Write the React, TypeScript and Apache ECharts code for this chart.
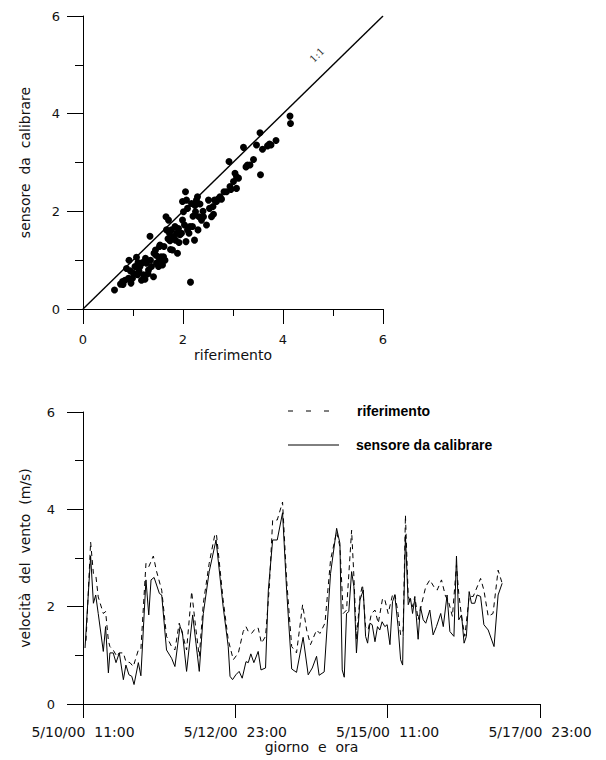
import React, { useEffect, useRef } from "react";
import * as echarts from "echarts";

// Scatter: riferimento (x) vs sensore da calibrare (y)
const scatterRif = [
  0.63, 0.75, 0.79, 0.84, 0.87, 0.92, 0.91, 0.96, 0.99, 1.01, 1.04, 1.07, 1.09, 1.14, 1.17, 1.21, 1.24, 1.25,
  1.27, 1.31, 1.34, 1.35, 1.37, 1.41, 1.42, 1.45, 1.47, 1.51, 1.53, 1.54, 1.56, 1.57, 1.59, 1.61, 1.64, 1.66,
  1.67, 1.71, 1.73, 1.74, 1.75, 1.77, 1.79, 1.81, 1.84, 1.85, 1.87, 1.89, 1.91, 1.94, 1.97, 1.99, 2.01, 1.99,
  2.05, 2.07, 2.09, 2.06, 2.09, 2.12, 2.14, 2.15, 2.17, 2.19, 2.23, 2.25, 2.27, 2.29, 2.3, 2.32, 2.34, 2.37,
  2.41, 2.47, 2.51, 2.53, 2.57, 2.61, 2.63, 2.67, 2.74, 2.77, 2.82, 2.87, 2.92, 2.94, 3.01, 3.04, 3.07, 3.07,
  3.11, 3.21, 3.26, 3.29, 3.34, 3.41, 3.47, 3.54, 3.55, 3.59, 3.69, 3.73, 3.76, 3.86, 4.14, 4.15,
  1.12, 1.19, 1.3, 1.46, 1.62, 1.7, 1.92, 2.03, 2.2, 2.24, 2.4, 2.6, 2.7, 0.8, 0.95, 1.1, 2.96, 1.52,
];
const scatterSens = [
  0.39, 0.51, 0.56, 0.59, 0.83, 1.0, 0.63, 0.53, 0.63, 0.73, 0.87, 1.06, 0.7, 0.87, 0.59, 0.7, 0.61, 1.04,
  0.94, 0.8, 1.49, 1.0, 0.87, 0.66, 1.14, 1.21, 0.94, 0.87, 1.28, 1.31, 1.07, 1.0, 0.9, 1.07, 1.0, 1.89,
  1.62, 1.82, 1.55, 1.4, 1.22, 1.62, 1.21, 1.48, 1.69, 1.41, 1.55, 1.14, 1.65, 1.52, 1.55, 1.82, 1.99, 2.2,
  2.4, 2.23, 2.06, 1.38, 1.62, 1.55, 1.69, 0.55, 2.16, 1.69, 1.41, 1.99, 2.23, 2.3, 1.62, 1.89, 2.15, 1.82,
  1.89, 1.72, 2.23, 2.06, 1.89, 1.94, 2.23, 2.2, 2.3, 2.25, 2.4, 2.4, 3.02, 2.51, 2.61, 2.78, 2.47, 2.71,
  2.68, 3.31, 2.91, 2.95, 2.95, 3.06, 3.36, 3.61, 2.75, 3.27, 3.34, 3.38, 3.36, 3.45, 3.95, 3.8,
  0.78, 0.95, 0.72, 1.1, 1.28, 1.44, 1.36, 1.72, 1.9, 2.12, 2.0, 2.1, 2.25, 0.5, 0.78, 0.95, 2.45, 1.05,
];
const scatterTicks = ["0", "2", "4", "6"];

// Time series (hours since 5/10/00 11:00)
const rifHours = [
  1.2, 3.0, 4.1, 5.1, 6.0, 8.0, 8.9, 10.0, 10.6, 11.9, 13.3, 14.3, 15.9, 16.9, 18.5, 19.8, 21.8, 22.8, 24.8,
  25.9, 27.7, 29.0, 31.0, 32.9, 34.9, 36.2, 37.9, 39.1, 40.8, 42.8, 44.5, 45.8, 47.4, 49.7, 52.0, 52.6, 55.2,
  57.2, 59.2, 61.2, 63.1, 64.2, 65.1, 66.4, 68.0, 69.0, 70.3, 71.9, 73.4, 74.7, 76.5, 78.6, 80.2, 82.2, 84.1,
  86.5, 88.1, 89.6, 92.0, 93.3, 95.3, 97.5, 99.9, 101.2, 102.5, 103.8, 105.8, 106.7, 107.7, 109.1, 110.1,
  111.3, 112.3, 113.6, 115.0, 116.3, 118.0, 118.9, 120.2, 121.9, 122.8, 124.1, 125.1, 126.1, 127.0, 128.1,
  129.8, 130.7, 132.0, 133.3, 135.0, 136.6, 138.2, 139.5, 141.2, 142.8, 143.8, 145.5, 147.1, 148.0, 149.1,
  150.4, 152.1, 153.7, 156.6, 157.9, 159.6, 161.5, 163.5, 165.1,
];
const rifValues = [
  1.3, 3.33, 2.68, 2.62, 2.2, 1.86, 1.9, 1.3, 1.18, 1.11, 0.98, 1.05, 1.05, 0.87, 0.85, 0.77, 1.11, 1.12, 2.89,
  2.82, 3.04, 2.72, 2.34, 1.39, 1.18, 1.11, 1.66, 1.45, 1.11, 2.31, 1.52, 0.98, 2.07, 2.89, 3.5, 3.47, 2.14,
  1.32, 0.91, 1.05, 1.49, 1.59, 1.49, 1.45, 1.56, 1.56, 1.25, 1.39, 2.41, 3.78, 3.78, 4.15, 2.55, 1.18, 1.05,
  2.04, 1.52, 1.22, 1.52, 1.45, 1.66, 2.96, 3.54, 3.23, 1.86, 1.93, 3.57, 2.62, 1.32, 2.21, 2.45,
  1.59, 1.52, 1.86, 1.93, 1.66, 2.17, 2.14, 1.86, 2.24, 2.27, 1.86, 1.42, 1.52, 3.88, 2.21,
  2.0, 2.21, 1.73, 2.04, 2.41, 2.55, 2.41, 2.34, 2.55, 2.21, 2.14, 1.8, 2.86, 2.27, 1.8,
  1.39, 2.21, 2.21, 2.58, 2.34, 1.8, 1.86, 2.75, 2.48,
];
const sensHours = [
  0.8, 3.0, 4.1, 5.0, 6.0, 8.0, 8.9, 10.0, 10.6, 11.9, 13.0, 14.3, 15.9, 16.9, 18.1, 19.2, 20.1, 21.8, 22.8,
  24.8, 25.9, 26.8, 28.0, 30.1, 31.0, 32.9, 34.9, 36.2, 38.2, 39.1, 40.8, 43.2, 44.5, 45.8, 47.4, 49.7, 52.4,
  55.2, 57.2, 57.9, 58.9, 60.2, 61.5, 62.7, 64.2, 65.1, 66.1, 67.3, 69.0, 70.1, 71.9, 73.0, 74.7, 76.5, 78.6,
  80.2, 82.2, 84.1, 86.7, 88.7, 90.3, 92.0, 93.0, 95.0, 97.5, 99.9, 101.2, 102.1, 102.9, 103.8, 104.7, 105.8,
  106.7, 107.7, 109.1, 110.4, 111.3, 112.1, 113.0, 113.9, 115.0, 116.0, 116.9, 117.8, 118.9, 119.8, 120.9,
  121.9, 122.8, 124.1, 125.1, 125.9, 126.1, 127.0, 128.1, 129.0, 129.8, 130.7, 132.0, 132.9, 134.0, 135.0,
  136.6, 137.9, 139.2, 140.9, 141.9, 143.4, 144.5, 146.1, 147.1, 148.0, 149.1, 150.1, 151.0, 152.1, 153.0,
  154.3, 155.2, 156.6, 157.9, 159.6, 161.9, 163.5, 165.1,
];
const sensValues = [
  1.15, 3.04, 2.07, 2.24, 1.86, 1.08, 1.59, 0.64, 1.05, 1.05, 0.85, 1.05, 0.5, 0.8, 0.6, 0.57, 0.4, 0.85, 0.58,
  2.55, 1.83, 2.55, 2.6, 2.27, 2.24, 1.11, 0.94, 0.77, 1.59, 1.49, 0.67, 1.83, 1.25, 0.67, 1.86, 2.72, 3.37,
  2.0, 1.18, 0.57, 0.5, 0.6, 0.67, 0.53, 0.87, 0.85, 1.03, 0.85, 1.08, 0.7, 0.74, 2.34, 3.37, 3.37, 3.93,
  2.34, 0.72, 0.65, 1.37, 0.6, 0.74, 0.98, 0.59, 0.66, 2.68, 3.61, 3.3, 0.7, 0.55, 1.86, 1.9, 2.72,
  2.41, 1.05, 2.14, 2.34, 1.39, 1.25, 1.66, 1.63, 1.28, 1.59, 1.52, 1.69, 1.59, 1.63, 1.22,
  2.1, 2.24, 1.59, 0.91, 0.8, 1.39, 3.47, 2.04, 2.17, 1.86, 2.17, 1.33, 2.0, 1.73, 1.66,
  1.93, 1.42, 1.59, 1.86, 1.59, 2.24, 1.49, 1.39, 3.04, 1.73, 1.83, 1.25, 1.39, 2.31, 2.07,
  2.07, 2.24, 2.21, 1.63, 1.52, 1.18, 2.24, 2.48,
];
const timeTickLabels = ["5/10/00  11:00", "5/12/00  23:00", "5/15/00  11:00", "5/17/00  23:00"];
const seriesNames = ["riferimento", "sensore da calibrare"];

const FONT = "DejaVu Sans";

export default function App() {
  const ref = useRef<HTMLDivElement>(null);

  useEffect(() => {
    document.body.style.margin = "0";
    if (!ref.current) return;
    const chart = echarts.init(ref.current, null, { renderer: "svg" });

    const axisCommon = {
      axisLine: { show: true, onZero: false, lineStyle: { color: "#000", width: 1 } },
      splitLine: { show: false },
      minorSplitLine: { show: false },
    };
    const labelStyle = { color: "#111", fontFamily: FONT, fontSize: 13 };
    const nameStyle = { color: "#111", fontFamily: FONT, fontSize: 14 };

    const option: any = {
      animation: false,
      backgroundColor: "#fff",
      grid: [
        { left: 83, top: 16, width: 300, height: 293 },
        { left: 83, top: 412, width: 457, height: 292 },
      ],
      xAxis: [
        {
          ...axisCommon,
          gridIndex: 0,
          type: "value",
          min: 0,
          max: 6,
          interval: 2,
          axisTick: { show: true, length: 15, lineStyle: { color: "#000" } },
          minorTick: { show: true, splitNumber: 2, length: 7, lineStyle: { color: "#000" } },
          axisLabel: { ...labelStyle, margin: 24, formatter: (v: number) => scatterTicks[v / 2] },
          name: "riferimento",
          nameLocation: "middle",
          nameGap: 39,
          nameTextStyle: nameStyle,
        },
        {
          ...axisCommon,
          gridIndex: 1,
          type: "value",
          min: 0,
          max: 180,
          interval: 60,
          axisTick: { show: true, length: 14, lineStyle: { color: "#000" } },
          axisLabel: {
            ...labelStyle,
            fontSize: 14,
            margin: 21,
            showMaxLabel: true,
            showMinLabel: true,
            formatter: (v: number) => timeTickLabels[Math.round(v / 60)],
          },
          name: "giorno  e  ora",
          nameLocation: "middle",
          nameGap: 32,
          nameTextStyle: nameStyle,
        },
      ],
      yAxis: [
        {
          ...axisCommon,
          gridIndex: 0,
          type: "value",
          min: 0,
          max: 6,
          interval: 2,
          axisTick: { show: true, length: 16, lineStyle: { color: "#000" } },
          minorTick: { show: true, splitNumber: 2, length: 8, lineStyle: { color: "#000" } },
          axisLabel: { ...labelStyle, margin: 23, formatter: (v: number) => scatterTicks[v / 2] },
          name: "sensore  da  calibrare",
          nameLocation: "middle",
          nameGap: 51,
          nameRotate: 90,
          nameTextStyle: nameStyle,
        },
        {
          ...axisCommon,
          gridIndex: 1,
          type: "value",
          min: 0,
          max: 6,
          interval: 2,
          axisTick: { show: true, length: 16, lineStyle: { color: "#000" } },
          minorTick: { show: true, splitNumber: 2, length: 8, lineStyle: { color: "#000" } },
          axisLabel: { ...labelStyle, margin: 28 },
          name: "velocità  del  vento  (m/s)",
          nameLocation: "middle",
          nameGap: 51,
          nameRotate: 90,
          nameTextStyle: nameStyle,
        },
      ],
      series: [
        {
          type: "line",
          xAxisIndex: 0,
          yAxisIndex: 0,
          data: [
            [0, 0],
            [6, 6],
          ],
          showSymbol: false,
          symbol: "none",
          lineStyle: { color: "#000", width: 1.4 },
          silent: true,
        },
        {
          type: "scatter",
          xAxisIndex: 0,
          yAxisIndex: 0,
          data: scatterRif.map((x, i) => [x, scatterSens[i]]),
          symbol: "circle",
          symbolSize: 7,
          itemStyle: { color: "#000", opacity: 1 },
        },
        {
          name: seriesNames[0],
          type: "line",
          xAxisIndex: 1,
          yAxisIndex: 1,
          data: rifHours.map((h, i) => [h, rifValues[i]]),
          showSymbol: false,
          symbol: "none",
          lineStyle: { color: "#000", width: 1, type: [5, 4] },
        },
        {
          name: seriesNames[1],
          type: "line",
          xAxisIndex: 1,
          yAxisIndex: 1,
          data: sensHours.map((h, i) => [h, sensValues[i]]),
          showSymbol: false,
          symbol: "none",
          lineStyle: { color: "#000", width: 1 },
        },
      ],
      graphic: [
        {
          type: "text",
          x: 317,
          y: 55,
          rotation: Math.PI / 4,
          style: {
            text: "1:1",
            fill: "#333",
            font: "10px 'DejaVu Serif'",
            align: "center",
            verticalAlign: "middle",
          },
        },
        {
          type: "line",
          shape: { x1: 288, y1: 411, x2: 330, y2: 411 },
          style: { stroke: "#000", lineWidth: 1, lineDash: [5, 13] },
        },
        {
          type: "text",
          x: 357,
          y: 411,
          style: {
            text: seriesNames[0],
            fill: "#000",
            font: "bold 14px 'Liberation Sans'",
            verticalAlign: "middle",
          },
        },
        {
          type: "line",
          shape: { x1: 288, y1: 445, x2: 339, y2: 445 },
          style: { stroke: "#000", lineWidth: 1 },
        },
        {
          type: "text",
          x: 356,
          y: 445,
          style: {
            text: seriesNames[1],
            fill: "#000",
            font: "bold 14px 'Liberation Sans'",
            verticalAlign: "middle",
          },
        },
      ],
    };

    chart.setOption(option);
    return () => chart.dispose();
  }, []);

  return <div ref={ref} style={{ width: 606, height: 760 }} />;
}
